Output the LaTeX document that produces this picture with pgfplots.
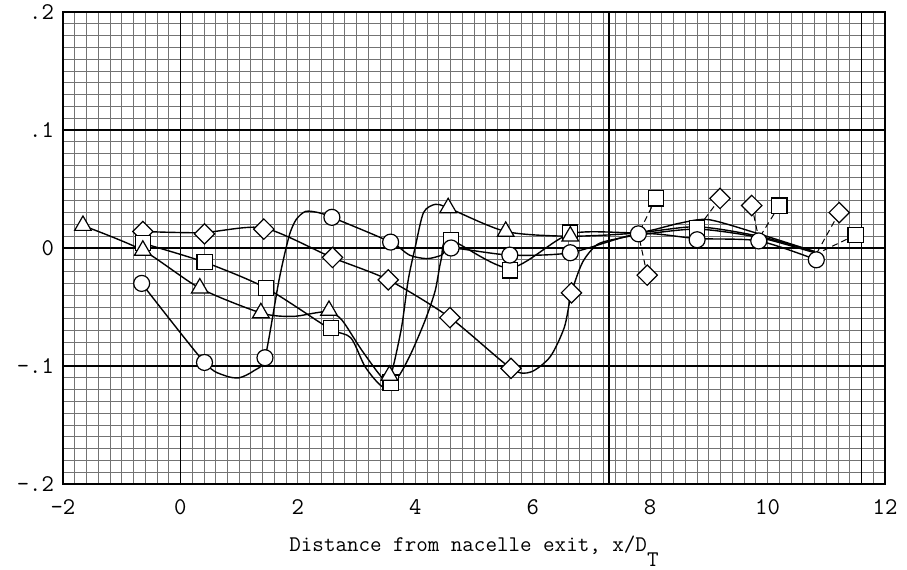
\documentclass[border=0pt]{standalone}
\usepackage{fontspec}
\usepackage{pgfplots}
\pgfplotsset{compat=1.18}
\begin{document}
\begin{tikzpicture}
\path[use as bounding box] (-31.5pt,-42.5pt) rectangle (422pt,242pt);
\begin{axis}[
  at={(0,0)}, anchor=south west,
  scale only axis, width=411pt, height=236pt,
  xmin=-2, xmax=12, ymin=-0.2, ymax=0.2,
  xtick={-2,0,2,4,6,8,10,12},
  xticklabels={-2,0,2,4,6,8,10,12},
  ytick={-0.2,-0.1,0,0.1,0.2},
  yticklabels={-.2,-.1,0,.1,.2},
  minor x tick num=9, minor y tick num=9,
  grid=both,
  major grid style={black!55, line width=0.4pt},
  minor grid style={black!55, line width=0.4pt},
  major tick length=0pt, minor tick length=0pt,
  axis line style={line width=0.9pt},
  ticklabel style={font=\fontsize{12}{14}\selectfont\ttfamily},
  xticklabel style={yshift=-4pt},
  yticklabel style={xshift=-1pt},
  scaled ticks=false,
  xlabel={Distance from nacelle exit, x/D\raisebox{-7.5pt}{T}},
  xlabel style={font=\fontsize{11.2}{13}\selectfont\ttfamily, yshift=-4pt},
]
% heavy graph-paper lines
\draw[line width=0.9pt] (axis cs:-2,-0.1) -- (axis cs:12,-0.1);
\draw[line width=0.9pt] (axis cs:-2,0) -- (axis cs:12,0);
\draw[line width=0.9pt] (axis cs:-2,0.1) -- (axis cs:12,0.1);
\draw[line width=0.9pt] (axis cs:0,-0.2) -- (axis cs:0,0.2);
\draw[line width=1.2pt] (axis cs:7.3,-0.2) -- (axis cs:7.3,0.2);
\draw[line width=0.9pt] (axis cs:11.6,-0.2) -- (axis cs:11.6,0.2);
\draw[line width=1.4pt] (axis cs:-2,-0.2) -- (axis cs:-2,0.2);

% faired curves
\addplot[black, line width=0.7pt, smooth, tension=0.45] coordinates {
(-1.66,0.019) (-0.64,-0.002) (0.33,-0.034) (1.37,-0.055) (1.9,-0.058) (2.3,-0.055) (2.53,-0.054)
(2.75,-0.061) (3.08,-0.086) (3.42,-0.109) (3.56,-0.112) (3.76,-0.069) (3.88,-0.027) (4.0,0.001)
(4.14,0.030) (4.34,0.037) (4.56,0.034) (5.54,0.014) (6.64,0.010) (7.8,0.013) (8.5,0.021)
(9.0,0.024) (9.85,0.012) (10.8,-0.003)};
\addplot[black, line width=0.7pt, smooth, tension=0.45] coordinates {
(-0.64,0.004) (0.41,-0.012) (1.46,-0.034) (2.53,-0.068) (2.9,-0.076) (3.15,-0.101) (3.46,-0.118)
(3.71,-0.109) (3.93,-0.089) (4.17,-0.061) (4.34,-0.036) (4.44,-0.010) (4.58,0.007)
(5.61,-0.017) (6.64,0.012) (7.8,0.013) (8.8,0.018) (9.85,0.010) (10.8,-0.003)};
\addplot[black, line width=0.7pt, smooth, tension=0.45] coordinates {
(-0.66,-0.030) (0.41,-0.097) (0.75,-0.108) (1.0,-0.110) (1.25,-0.104) (1.44,-0.093)
(1.68,-0.027) (1.85,0.010) (1.97,0.024) (2.13,0.031) (2.35,0.030) (2.58,0.026) (3.58,0.005)
(3.9,-0.006) (4.2,-0.009) (4.45,-0.006) (4.61,0.0) (5.61,-0.006) (6.64,-0.004) (7.8,0.012)
(8.8,0.008) (9.85,0.006) (10.83,-0.010)};
\addplot[black, line width=0.7pt, smooth, tension=0.45] coordinates {
(-0.64,0.014) (0.37,0.013) (1.42,0.017) (2.58,-0.008) (3.54,-0.027) (4.59,-0.059)
(5.63,-0.102) (5.97,-0.105) (6.3,-0.092) (6.54,-0.067) (6.66,-0.038) (6.85,-0.012)
(7.1,0.003) (7.45,0.008) (7.8,0.011) (8.8,0.016) (9.85,0.009) (10.8,-0.004)};

% dashed leaders
\addplot[black, line width=0.5pt, dash pattern=on 3pt off 2pt] coordinates {(8.1,0.042) (7.8,0.012)};
\addplot[black, line width=0.5pt, dash pattern=on 3pt off 2pt] coordinates {(7.95,-0.023) (7.8,0.012)};
\addplot[black, line width=0.5pt, dash pattern=on 3pt off 2pt] coordinates {(9.19,0.042) (8.8,0.016)};
\addplot[black, line width=0.5pt, dash pattern=on 3pt off 2pt] coordinates {(9.73,0.036) (9.85,0.008)};
\addplot[black, line width=0.5pt, dash pattern=on 3pt off 2pt] coordinates {(10.2,0.036) (9.85,0.008)};
\addplot[black, line width=0.5pt, dash pattern=on 3pt off 2pt] coordinates {(11.22,0.030) (10.83,-0.005)};
\addplot[black, line width=0.5pt, dash pattern=on 3pt off 2pt] coordinates {(11.5,0.011) (10.83,-0.005)};

% markers
\addplot[only marks, mark=square*, mark size=3.6pt, mark options={draw=black, fill=white, line width=0.6pt, rotate=45}] coordinates {
(-0.64,0.014) (0.41,0.012) (1.42,0.016) (2.59,-0.008) (3.54,-0.027) (4.59,-0.059) (5.63,-0.102)
(6.66,-0.038) (7.95,-0.023) (9.19,0.042) (9.73,0.036) (11.22,0.030)};
\addplot[only marks, mark=square*, mark size=3.8pt, mark options={draw=black, fill=white, line width=0.6pt}] coordinates {
(-0.64,0.004) (0.41,-0.012) (1.46,-0.034) (2.56,-0.068) (3.58,-0.114) (4.61,0.007) (5.61,-0.019)
(6.64,0.013) (8.1,0.042) (8.8,0.017) (10.2,0.036) (11.5,0.011)};
\addplot[only marks, mark=triangle*, mark size=4.8pt, mark options={draw=black, fill=white, line width=0.6pt}] coordinates {
(-1.66,0.019) (-0.64,-0.002) (0.33,-0.034) (1.37,-0.055) (2.53,-0.053) (3.56,-0.108) (4.56,0.034)
(5.54,0.014) (6.64,0.010)};
\addplot[only marks, mark=*, mark size=4pt, mark options={draw=black, fill=white, line width=0.6pt}] coordinates {
(-0.66,-0.030) (0.41,-0.097) (1.44,-0.093) (2.58,0.026) (3.58,0.005) (4.61,0.0) (5.61,-0.006)
(6.64,-0.004) (7.8,0.012) (8.8,0.007) (9.85,0.006) (10.83,-0.010)};
\end{axis}
\end{tikzpicture}
\end{document}
